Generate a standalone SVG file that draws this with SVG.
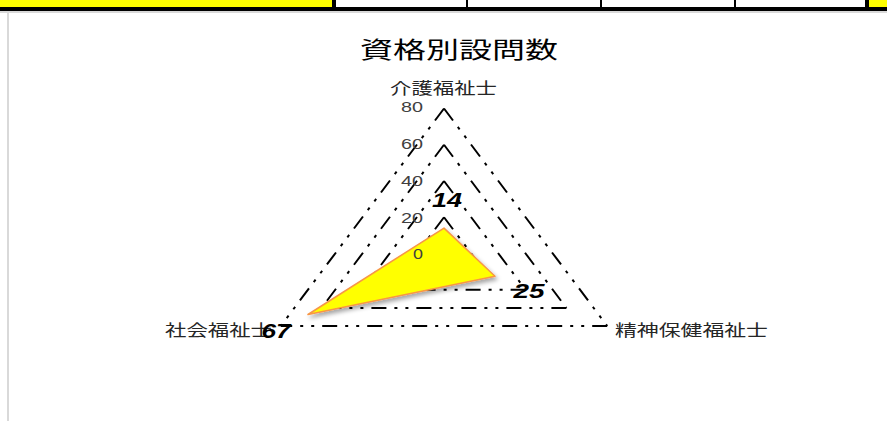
<svg xmlns="http://www.w3.org/2000/svg" width="887" height="421" viewBox="0 0 887 421">
<style>
.ring{fill:none;stroke:#000;stroke-width:2;stroke-dasharray:15 8 3 8 3 8}
.cat{font-family:"Liberation Sans","Noto Sans CJK JP",sans-serif;font-size:16px;fill:#262626}
.tick{font-family:"Liberation Sans",sans-serif;font-size:14px;fill:#404040;text-anchor:end}
.val{font-family:"Liberation Sans",sans-serif;font-size:20px;font-weight:bold;font-style:italic;fill:#000;text-anchor:middle}
.title{font-family:"Liberation Sans","Noto Sans CJK JP",sans-serif;font-size:23px;fill:#000}
</style>
<defs>
<filter id="sh" x="-20%" y="-20%" width="140%" height="150%">
<feDropShadow dx="2" dy="3" stdDeviation="2" flood-color="#000" flood-opacity="0.35"/>
</filter>
</defs>
<rect x="0" y="0" width="887" height="421" fill="#fff"/>
<g id="topbar">
<rect x="0" y="0" width="332" height="8" fill="#ffff00"/>
<rect x="868" y="0" width="19" height="8" fill="#ffff00"/>
<rect x="0" y="7" width="887" height="4" fill="#000"/>
<rect x="0" y="11" width="887" height="2" fill="#d9d9d9"/>
<rect x="332" y="0" width="4" height="9" fill="#000"/>
<rect x="466" y="0" width="2" height="9" fill="#000"/>
<rect x="600" y="0" width="2" height="9" fill="#000"/>
<rect x="734" y="0" width="2" height="9" fill="#000"/>
<rect x="865" y="0" width="4" height="9" fill="#000"/>
</g>
<rect x="7" y="12" width="2" height="409" fill="#d9d9d9"/>
<g id="title"><text class="title" x="360" y="58" textLength="198" lengthAdjust="spacingAndGlyphs">資格別設問数</text></g>
<g id="grid">
<g id="ring80"><line class="ring" x1="444" y1="108.5" x2="607.2" y2="326"/><line class="ring" x1="444" y1="108.5" x2="280.8" y2="326"/><line class="ring" x1="607.2" y1="326" x2="280.8" y2="326"/></g>
<g id="ring60"><line class="ring" x1="444" y1="144.75" x2="566.4" y2="307.9"/><line class="ring" x1="444" y1="144.75" x2="321.6" y2="307.9"/><line class="ring" x1="566.4" y1="307.9" x2="321.6" y2="307.9"/></g>
<g id="ring40"><line class="ring" x1="444" y1="181" x2="525.6" y2="289.75"/><line class="ring" x1="444" y1="181" x2="362.4" y2="289.75"/><line class="ring" x1="525.6" y1="289.75" x2="362.4" y2="289.75"/></g>
<g id="ring20"><line class="ring" x1="444" y1="217.25" x2="484.8" y2="271.6"/><line class="ring" x1="444" y1="217.25" x2="403.2" y2="271.6"/><line class="ring" x1="484.8" y1="271.6" x2="403.2" y2="271.6"/></g>
</g>
<g id="series">
<polygon points="444,228.1 495,276.2 308,314.5" fill="#ffff00" stroke="#f79646" stroke-width="1.5" stroke-linejoin="round" filter="url(#sh)"/>
</g>
<g id="ticks">
<text class="tick" x="423" y="112" textLength="22" lengthAdjust="spacingAndGlyphs">80</text>
<text class="tick" x="423" y="149" textLength="22" lengthAdjust="spacingAndGlyphs">60</text>
<text class="tick" x="423" y="186" textLength="22" lengthAdjust="spacingAndGlyphs">40</text>
<text class="tick" x="423" y="223" textLength="22" lengthAdjust="spacingAndGlyphs">20</text>
<text class="tick" x="423" y="259" textLength="10" lengthAdjust="spacingAndGlyphs">0</text>
</g>
<g id="node-kaigo"><text class="cat" x="390" y="94" textLength="107" lengthAdjust="spacingAndGlyphs">介護福祉士</text></g>
<g id="node-seishin"><text class="cat" x="615" y="336" textLength="153" lengthAdjust="spacingAndGlyphs">精神保健福祉士</text></g>
<g id="node-shakai"><text class="cat" x="165" y="336" textLength="107" lengthAdjust="spacingAndGlyphs">社会福祉士</text></g>
<g id="values">
<text class="val" x="447" y="207" textLength="30" lengthAdjust="spacingAndGlyphs">14</text>
<text class="val" x="529" y="298" textLength="31" lengthAdjust="spacingAndGlyphs">25</text>
<text class="val" x="276" y="338" textLength="29" lengthAdjust="spacingAndGlyphs">67</text>
</g>
</svg>
